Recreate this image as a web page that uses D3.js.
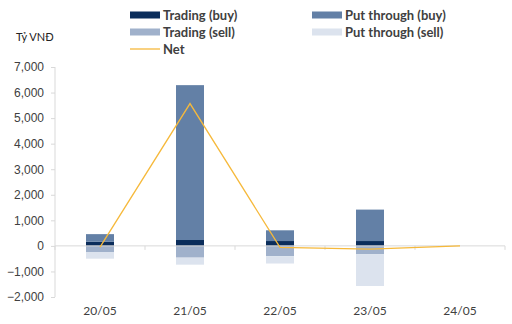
<!DOCTYPE html>
<html>
<head>
<meta charset="utf-8">
<script src="https://cdn.jsdelivr.net/npm/d3@7"></script>
<style>
  body { margin: 0; background: #fff; }
  svg { font-family: Lato, "Open Sans", sans-serif; }
  .tick text { fill: #404040; font-size: 12px; }
</style>
</head>
<body>
<svg id="chart" width="512" height="324"></svg>
<script>
// data (bn VND)
const days = ['20/05', '21/05', '22/05', '23/05', '24/05'];
const tradingBuy = [160, 230, 190, 190, 0];
const putBuy = [300, 6060, 420, 1230, 0];
const tradingSell = [-240, -460, -400, -330, 0];
const putSell = [-260, -275, -290, -1240, 0];
const net = [-50, 5570, -60, -125, 0];
const yTicks = [-2000, -1000, 0, 1000, 2000, 3000, 4000, 5000, 6000, 7000];

const colors = {
  tradingBuy: '#0b2d5b',
  putBuy: '#6380a6',
  tradingSell: '#a0b1cb',
  putSell: '#dce3ee',
  net: '#f6b93b'
};

const svg = d3.select('#chart');

const x = d3.scaleBand().domain(days).range([55, 505]);
const y = d3.scaleLinear().domain([-2000, 7000]).range([297, 67]);
const barW = 28;

// y axis
svg.append('line')
  .attr('x1', 55).attr('x2', 55)
  .attr('y1', y(7000)).attr('y2', y(-2000))
  .attr('stroke', '#d9d9d9');

const yAxis = svg.append('g')
  .attr('transform', 'translate(55,0)')
  .call(d3.axisLeft(y).tickValues(yTicks).tickSize(4).tickPadding(7)
    .tickFormat(d3.format(',')));
yAxis.select('.domain').remove();
yAxis.selectAll('.tick line').attr('stroke', '#d9d9d9');

// stacked bars
const stacks = [
  { key: 'tradingBuy', vals: tradingBuy, base: () => 0 },
  { key: 'putBuy', vals: putBuy, base: i => tradingBuy[i] },
  { key: 'tradingSell', vals: tradingSell, base: () => 0 },
  { key: 'putSell', vals: putSell, base: i => tradingSell[i] }
];

stacks.forEach(s => {
  svg.append('g').selectAll('rect')
    .data(days)
    .join('rect')
    .attr('x', d => x(d) + x.bandwidth() / 2 - barW / 2)
    .attr('width', barW)
    .attr('y', (d, i) => y(Math.max(s.base(i), s.base(i) + s.vals[i])))
    .attr('height', (d, i) => Math.abs(y(s.base(i)) - y(s.base(i) + s.vals[i])))
    .attr('fill', colors[s.key]);
});

// zero line with category ticks
svg.append('line')
  .attr('x1', 55).attr('x2', 505)
  .attr('y1', y(0)).attr('y2', y(0))
  .attr('stroke', '#d9d9d9');
svg.append('g').selectAll('line')
  .data(days.concat(['end']))
  .join('line')
  .attr('x1', (d, i) => 55 + i * x.bandwidth())
  .attr('x2', (d, i) => 55 + i * x.bandwidth())
  .attr('y1', y(0)).attr('y2', y(0) + 4)
  .attr('stroke', '#d9d9d9');

// net line
svg.append('path')
  .datum(net)
  .attr('fill', 'none')
  .attr('stroke', colors.net)
  .attr('stroke-width', 1.3)
  .attr('d', d3.line()
    .x((d, i) => x(days[i]) + x.bandwidth() / 2)
    .y(d => y(d)));

// x labels
svg.append('g').selectAll('text')
  .data(days)
  .join('text')
  .attr('x', d => x(d) + x.bandwidth() / 2)
  .attr('y', 315)
  .attr('text-anchor', 'middle')
  .attr('fill', '#404040')
  .style('font-size', '12px')
  .text(d => d);

// unit label
svg.append('text')
  .attr('x', 16).attr('y', 41)
  .attr('fill', '#222')
  .style('font-size', '11px')
  .text('Tỷ VNĐ');

// legend
const legend = [
  { label: 'Trading (buy)', color: colors.tradingBuy, x: 130, y: 15 },
  { label: 'Put through (buy)', color: colors.putBuy, x: 312, y: 15 },
  { label: 'Trading (sell)', color: colors.tradingSell, x: 130, y: 32 },
  { label: 'Put through (sell)', color: colors.putSell, x: 312, y: 32 },
  { label: 'Net', color: colors.net, x: 130, y: 49, line: true }
];
const lg = svg.append('g').selectAll('g').data(legend).join('g')
  .attr('transform', d => `translate(${d.x},${d.y})`);
lg.filter(d => !d.line).append('rect')
  .attr('x', 0).attr('y', -3.5).attr('width', 30).attr('height', 7)
  .attr('fill', d => d.color);
lg.filter(d => d.line).append('line')
  .attr('x1', 0).attr('x2', 30).attr('y1', 0).attr('y2', 0)
  .attr('stroke', d => d.color).attr('stroke-width', 1.3);
lg.append('text')
  .attr('x', 33).attr('y', 4.5)
  .attr('fill', '#404040')
  .style('font-size', '13px')
  .style('font-weight', 'bold')
  .text(d => d.label);
</script>
</body>
</html>
